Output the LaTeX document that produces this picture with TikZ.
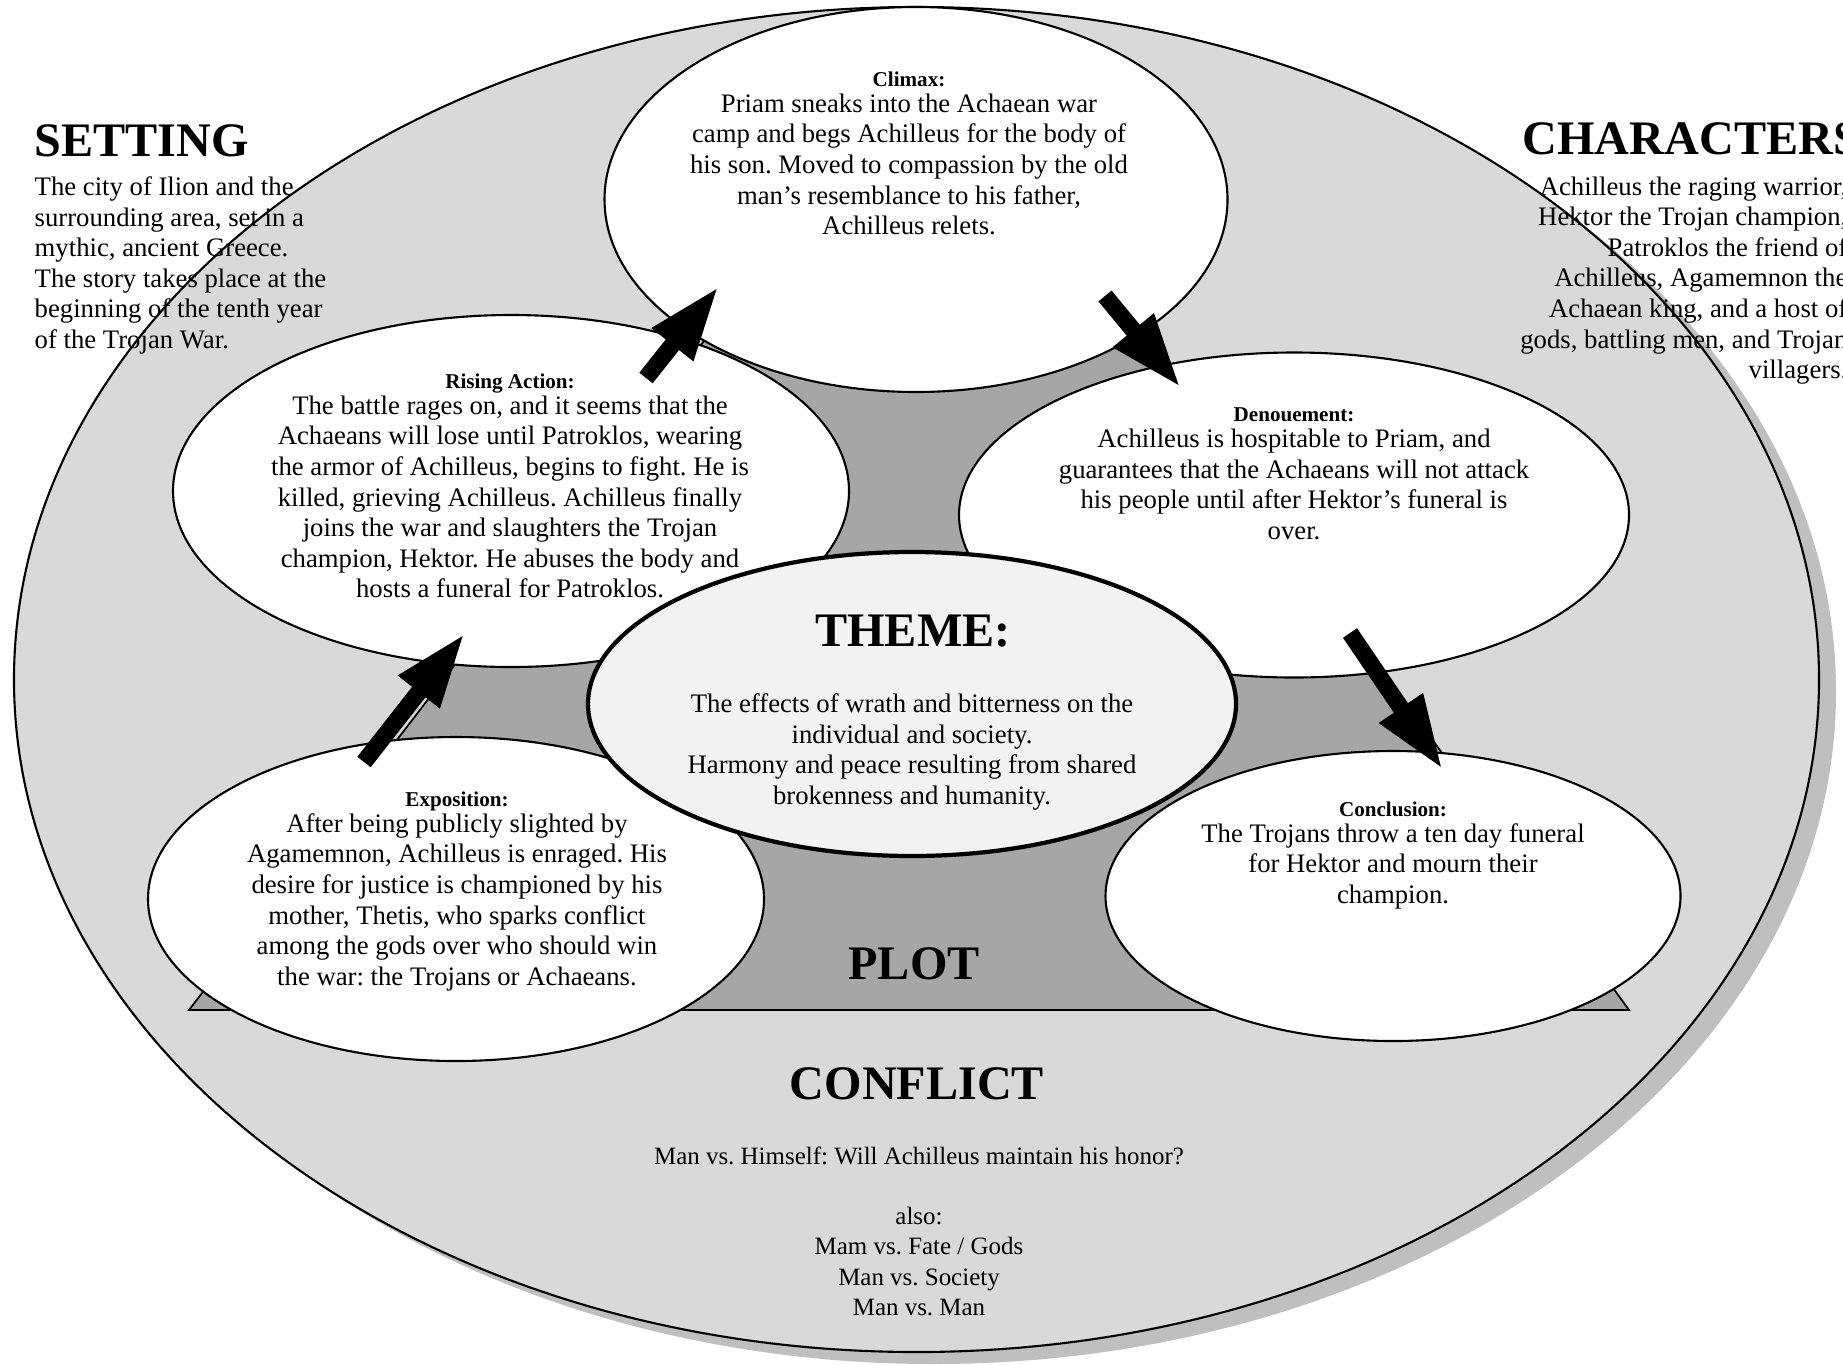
\documentclass[tikz,border=0pt]{standalone}
\usepackage{fontspec}
\setmainfont{Liberation Serif}
\usetikzlibrary{shapes.geometric,arrows.meta}
\definecolor{ringgray}{HTML}{D9D9D9}
\definecolor{shadowgray}{HTML}{BFBFBF}
\definecolor{plotgray}{HTML}{A6A6A6}
\definecolor{themefill}{HTML}{F2F2F2}
\newcommand{\stagelabel}[1]{{\fontsize{6}{7}\selectfont\bfseries #1}}
\frenchspacing
\begin{document}
\begin{tikzpicture}[x=1cm,y=1cm,every node/.style={inner sep=0pt,font=\fontsize{7.6}{8.7}\selectfont}]
    \tikzset{
      stage/.style={ellipse,draw,fill=white,line width=0.6pt},
      stagetext/.style={align=center,anchor=north},
      heading/.style={font=\fontsize{13.7}{16}\selectfont\bfseries},
      bigarrow/.style={-{Triangle[width=4.8mm,length=7.5mm]},line width=1.7mm}
    }
    \useasboundingbox (0,0) rectangle (18.43,13.64);
    \clip (0,0) rectangle (18.43,13.64);

    \node[ellipse,fill=shadowgray,minimum width=18.05cm,minimum height=13.45cm] (shadow) at (9.335,6.725) {};
    \node[ellipse,draw,fill=ringgray,line width=0.6pt,minimum width=18.05cm,minimum height=13.45cm] (story) at (9.165,6.845) {};

    \draw[fill=plotgray,line width=0.5pt] (1.89,3.54) -- (16.29,3.54) -- (10.76,11.14) -- (7.74,11.14) -- cycle;

    \node[stage,minimum width=6.23cm,minimum height=3.85cm] (climax) at (9.16,11.645) {};
    \node[stage,minimum width=6.76cm,minimum height=3.52cm] (rise) at (5.11,8.73) {};
    \node[stage,minimum width=6.70cm,minimum height=3.25cm] (denoue) at (12.94,8.49) {};
    \node[stage,minimum width=6.16cm,minimum height=3.24cm] (expo) at (4.56,4.65) {};
    \node[stage,minimum width=5.75cm,minimum height=2.90cm] (concl) at (13.93,4.68) {};
    \node[stage,fill=themefill,line width=1.2pt,minimum width=6.48cm,minimum height=3.04cm] (theme) at (9.12,6.60) {};

    \coordinate (a1) at (3.64,6.02);
    \coordinate (b1) at (4.65,7.31);
    \coordinate (a2) at (6.46,9.86);
    \coordinate (b2) at (7.19,10.78);
    \coordinate (a3) at (11.05,10.68);
    \coordinate (b3) at (11.81,9.76);
    \coordinate (a4) at (13.50,7.31);
    \coordinate (b4) at (14.43,5.94);
    \draw[bigarrow] (a1) -- (b1);
    \draw[bigarrow] (a2) -- (b2);
    \draw[bigarrow] (a3) -- (b3);
    \draw[bigarrow] (a4) -- (b4);

    \node[stagetext] (climaxtext) at (9.09,12.93) {\stagelabel{Climax:}\\[-1.3pt]
      Priam sneaks into the Achaean war\\ camp and begs Achilleus for the body of\\
      his son. Moved to compassion by the old\\ man's resemblance to his father,\\ Achilleus relets.};
    \node[stagetext] (risetext) at (5.10,9.91) {\stagelabel{Rising Action:}\\[-1.3pt]
      The battle rages on, and it seems that the\\ Achaeans will lose until Patroklos, wearing\\
      the armor of Achilleus, begins to fight. He is\\ killed, grieving Achilleus. Achilleus finally\\
      joins the war and slaughters the Trojan\\ champion, Hektor. He abuses the body and\\ hosts a funeral for Patroklos.};
    \node[stagetext] (denouetext) at (12.94,9.57) {\stagelabel{Denouement:}\\[-1.3pt]
      Achilleus is hospitable to Priam, and\\ guarantees that the Achaeans will not attack\\
      his people until after Hektor's funeral is\\ over.};
    \node[stagetext] (expotext) at (4.57,5.73) {\stagelabel{Exposition:}\\[-1.3pt]
      After being publicly slighted by\\ Agamemnon, Achilleus is enraged. His\\
      desire for justice is championed by his\\ mother, Thetis, who sparks conflict\\
      among the gods over who should win\\ the war: the Trojans or Achaeans.};
    \node[stagetext] (concltext) at (13.93,5.63) {\stagelabel{Conclusion:}\\[-1.3pt]
      The Trojans throw a ten day funeral\\ for Hektor and mourn their\\ champion.};

    \node[heading] (themehead) at (9.13,7.33) {THEME:};
    \node[stagetext] (themetext) at (9.12,6.71) {The effects of wrath and bitterness on the\\
      individual and society.\\ Harmony and peace resulting from shared\\ brokenness and humanity.};

    \node[heading] (plotlabel) at (9.14,4.00) {PLOT};
    \node[heading] (conflicthead) at (9.17,2.80) {CONFLICT};
    \node[stagetext,font=\fontsize{7.1}{8.6}\selectfont] (conflicttext) at (9.19,2.18)
      {Man vs. Himself: Will Achilleus maintain his honor?\\[8.6pt] also:\\
      Mam vs. Fate / Gods\\ Man vs. Society\\ Man vs. Man};

    \node[heading,anchor=west] (settinghead) at (0.34,12.23) {SETTING};
    \node[align=left,anchor=north west] (settingtext) at (0.34,11.88) {The city of Ilion and the\\
      surrounding area, set in a\\ mythic, ancient Greece.\\ The story takes place at the\\
      beginning of the tenth year\\ of the Trojan War.};
    \node[heading,anchor=west] (charhead) at (15.22,12.25) {CHARACTERS};
    \node[align=right,anchor=north east] (chartext) at (18.48,11.88) {Achilleus the raging warrior,\\
      Hektor the Trojan champion,\\ Patroklos the friend of\\ Achilleus, Agamemnon the\\
      Achaean king, and a host of\\ gods, battling men, and Trojan\\ villagers.};
  \end{tikzpicture}
\end{document}
